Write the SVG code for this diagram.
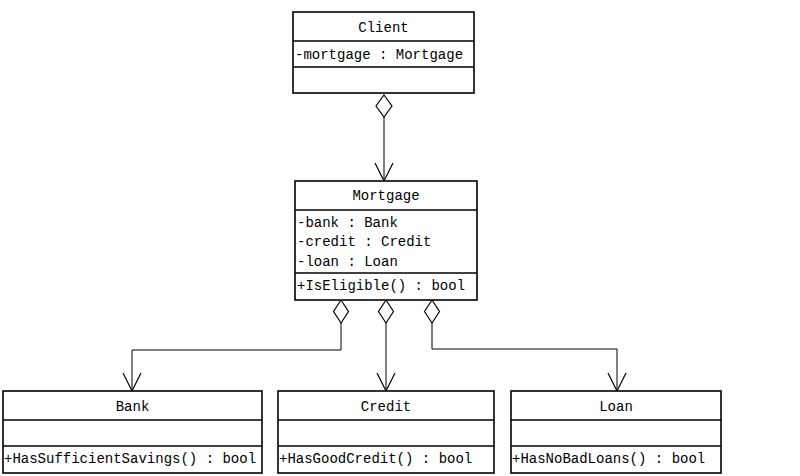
<svg xmlns="http://www.w3.org/2000/svg" width="800" height="476" viewBox="0 0 800 476">
<style>
.box{fill:#fff;stroke:#000;stroke-width:1.6}
.sep{stroke:#000;stroke-width:1.4}
.t{font-family:"Liberation Mono","DejaVu Sans Mono",monospace;font-size:14px;fill:#000}
.c{text-anchor:middle}
.ln{fill:none;stroke:#000;stroke-width:1}
.dia{fill:#fff;stroke:#000;stroke-width:1.2}
</style>
<defs>
<marker id="open" markerWidth="20" markerHeight="20" refX="18" refY="10" orient="auto" markerUnits="userSpaceOnUse" viewBox="0 0 20 20">
<path d="M0,1 L18,10 L0,19" fill="none" stroke="#000" stroke-width="1.2"/>
</marker>
</defs>
<rect width="800" height="476" fill="#fff"/>
<g id="connectors">
<path class="ln" d="M384,117 L384,181" marker-end="url(#open)"/>
<path class="ln" d="M341,323 L341,350 L132,350 L132,391" marker-end="url(#open)"/>
<path class="ln" d="M386,323 L386,391" marker-end="url(#open)"/>
<path class="ln" d="M432,323 L432,349 L617,349 L617,391" marker-end="url(#open)"/>
<path class="dia" d="M384,95 L392,106 L384,117 L376,106 Z"/>
<path class="dia" d="M341,300 L348.5,311.5 L341,323 L333.5,311.5 Z"/>
<path class="dia" d="M386,300 L393.5,311.5 L386,323 L378.5,311.5 Z"/>
<path class="dia" d="M432,300 L439.5,311.5 L432,323 L424.5,311.5 Z"/>
</g>
<g id="client">
<rect class="box" x="293" y="12" width="181" height="81"/>
<line class="sep" x1="293" y1="41" x2="474" y2="41"/>
<line class="sep" x1="293" y1="67" x2="474" y2="67"/>
<text class="t c" x="383.5" y="32">Client</text>
<text class="t" x="295" y="59">-mortgage : Mortgage</text>
</g>
<g id="mortgage">
<rect class="box" x="295" y="181" width="182" height="119"/>
<line class="sep" x1="295" y1="210" x2="477" y2="210"/>
<line class="sep" x1="295" y1="273" x2="477" y2="273"/>
<text class="t c" x="386" y="200">Mortgage</text>
<text class="t" x="297" y="227">-bank : Bank</text>
<text class="t" x="297" y="246">-credit : Credit</text>
<text class="t" x="297" y="266">-loan : Loan</text>
<text class="t" x="297" y="290">+IsEligible() : bool</text>
</g>
<g id="bank">
<rect class="box" x="3" y="391" width="259" height="82"/>
<line class="sep" x1="3" y1="420" x2="262" y2="420"/>
<line class="sep" x1="3" y1="446" x2="262" y2="446"/>
<text class="t c" x="132.5" y="411">Bank</text>
<text class="t" x="4" y="463">+HasSufficientSavings() : bool</text>
</g>
<g id="credit">
<rect class="box" x="278" y="391" width="216" height="82"/>
<line class="sep" x1="278" y1="420" x2="494" y2="420"/>
<line class="sep" x1="278" y1="446" x2="494" y2="446"/>
<text class="t c" x="386" y="411">Credit</text>
<text class="t" x="279" y="463">+HasGoodCredit() : bool</text>
</g>
<g id="loan">
<rect class="box" x="511" y="391" width="210" height="82"/>
<line class="sep" x1="511" y1="420" x2="721" y2="420"/>
<line class="sep" x1="511" y1="446" x2="721" y2="446"/>
<text class="t c" x="616" y="411">Loan</text>
<text class="t" x="512" y="463">+HasNoBadLoans() : bool</text>
</g>
</svg>
